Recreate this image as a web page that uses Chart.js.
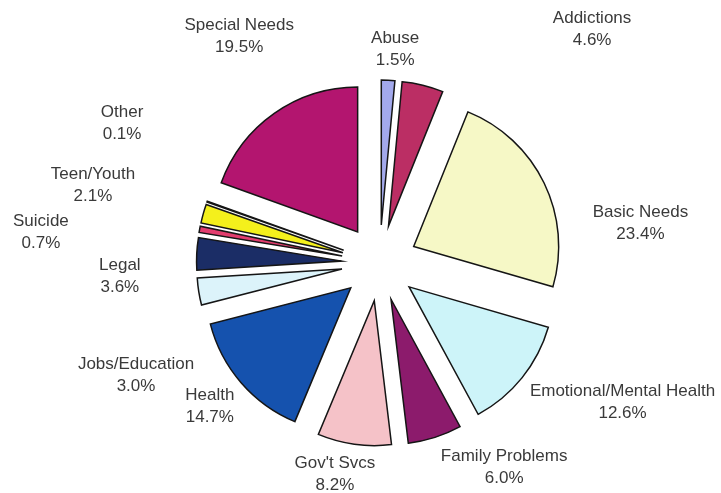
<!DOCTYPE html>
<html>
<head>
<meta charset="utf-8">
<script src="https://cdn.jsdelivr.net/npm/chart.js@4"></script>
<style>
    body { margin: 0; background: #ffffff; }
    #wrap { width: 721px; height: 493px; position: relative; }
</style>
</head>
<body>
<div id="wrap"><canvas id="pieChart"></canvas></div>
<script>
// Дані
const categories = ['Abuse', 'Addictions', 'Basic Needs', 'Emotional/Mental Health', 'Family Problems',
    "Gov't Svcs", 'Health', 'Jobs/Education', 'Legal', 'Suicide', 'Teen/Youth', 'Other', 'Special Needs'];
const shares = [1.5, 4.6, 23.4, 12.6, 6.0, 8.2, 14.7, 3.0, 3.6, 0.7, 2.1, 0.1, 19.5];
const shareLabels = ['1.5%', '4.6%', '23.4%', '12.6%', '6.0%', '8.2%', '14.7%', '3.0%', '3.6%', '0.7%', '2.1%', '0.1%', '19.5%'];

const sliceColors = ['#a3a9ec', '#bb2e64', '#f6f8c6', '#cdf4f9', '#8c1b6c', '#f5c2c8', '#1552ae',
    '#dcf3fa', '#1b2d66', '#e23d6e', '#f4f01c', '#2f3b2f', '#b3156f'];

// розміщення підписів: [зсув кута в градусах, відстань від центру]
const labelPlacement = [
    [1.5, 214], [28.6, 316], [17.2, 264], [-9.1, 280], [-13.8, 239], [4.0, 216], [0.7, 222],
    [-15.7, 268], [-5.8, 260], [-5.4, 340], [-0.4, 297], [8.9, 293], [3.4, 267]
];

const explode = 38;

// Рознесені сектори
const explodePlugin = {
    id: 'explode',
    beforeDatasetDraw(chart, args) {
        const ctx = chart.ctx;
        args.meta.data.forEach(arc => {
            const mid = (arc.startAngle + arc.endAngle) / 2;
            ctx.save();
            ctx.translate(Math.cos(mid) * explode, Math.sin(mid) * explode);
            arc.draw(ctx);
            ctx.restore();
        });
        return false;
    }
};

// Підписи секторів
const labelPlugin = {
    id: 'sliceLabels',
    afterDraw(chart) {
        const ctx = chart.ctx;
        const arcs = chart.getDatasetMeta(0).data;
        ctx.save();
        ctx.font = '17px "Liberation Sans", Arial, sans-serif';
        ctx.fillStyle = '#3a3a3a';
        ctx.textAlign = 'center';
        ctx.textBaseline = 'middle';
        arcs.forEach((arc, i) => {
            const a = (arc.startAngle + arc.endAngle) / 2 + labelPlacement[i][0] * Math.PI / 180;
            const x = arc.x + Math.cos(a) * labelPlacement[i][1];
            const y = arc.y + Math.sin(a) * labelPlacement[i][1];
            ctx.fillText(categories[i], x, y - 11);
            ctx.fillText(shareLabels[i], x, y + 11);
        });
        ctx.restore();
    }
};

new Chart(document.getElementById('pieChart'), {
    type: 'pie',
    data: {
        labels: categories,
        datasets: [{
            data: shares,
            backgroundColor: sliceColors,
            borderColor: '#151515',
            borderWidth: 1.5,
            borderJoinStyle: 'miter',
            offset: 0
        }]
    },
    options: {
        responsive: true,
        maintainAspectRatio: false,
        animation: false,
        events: [],
        radius: 145,
        layout: {
            padding: { left: 38, top: 33, right: 0, bottom: 0 }
        },
        plugins: {
            legend: { display: false },
            tooltip: { enabled: false }
        }
    },
    plugins: [explodePlugin, labelPlugin]
});
</script>
</body>
</html>
